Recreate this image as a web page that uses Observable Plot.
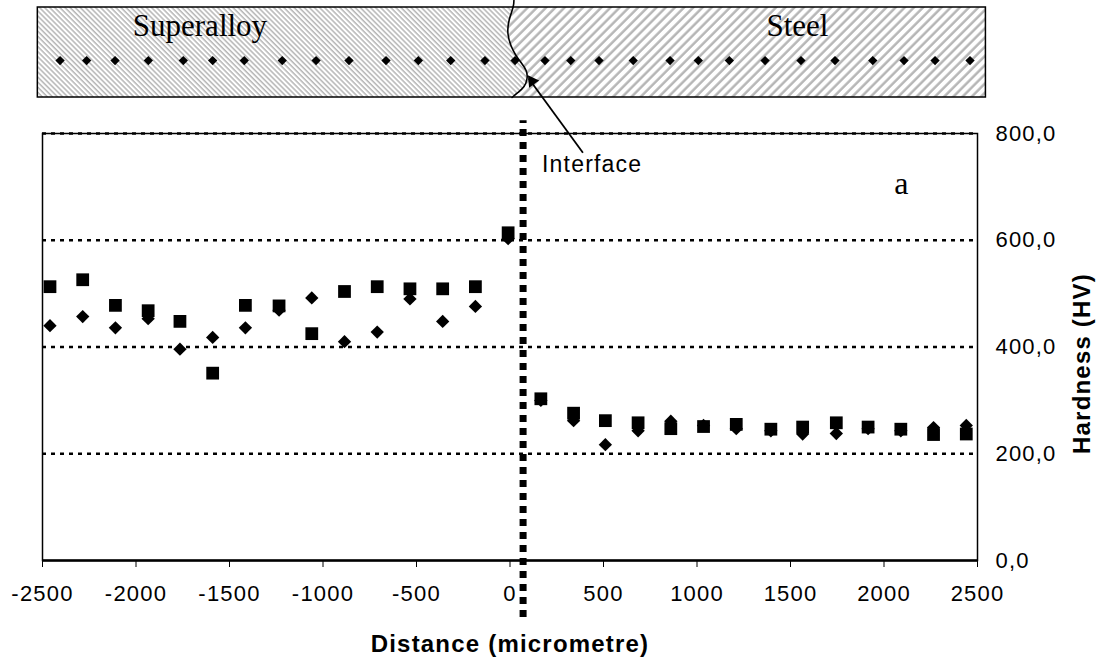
<!DOCTYPE html>
<html><head><meta charset="utf-8">
<script src="https://cdn.jsdelivr.net/npm/d3@7"></script>
<script src="https://cdn.jsdelivr.net/npm/@observablehq/plot@0.6"></script>
<style>
body{margin:0;background:#fff;}
#wrap{position:relative;width:1105px;height:664px;overflow:hidden;}
#wrap svg{position:absolute;left:0;top:0;}
</style></head><body><div id="wrap"></div>
<script>
// ---- hardness data (distance in micrometre, hardness HV) ----
const distance = [-2460, -2285, -2110, -1935, -1765, -1590, -1415, -1235, -1060, -885, -710, -535, -360, -185, -10,
                  165, 340, 510, 685, 860, 1035, 1210, 1395, 1565, 1745, 1915, 2090, 2265, 2440];
const hardnessSquare = [513, 526, 478, 468, 448, 351, 478, 477, 425, 504, 513, 509, 509, 513, 614,
                        303, 276, 262, 258, 247, 251, 255, 246, 250, 258, 250, 246, 236, 237];
const hardnessDiamond = [440, 457, 436, 453, 396, 418, 436, 469, 492, 410, 428, 490, 448, 476, 603,
                         300, 262, 217, 243, 261, 253, 247, 243, 237, 238, 247, 243, 249, 253];
const xTicks = [-2500, -2000, -1500, -1000, -500, 0, 500, 1000, 1500, 2000, 2500];
const yTicks = [0, 200, 400, 600, 800];
const gridValues = [200, 400, 600, 800];
const interfaceSpan = [{x: 70, y1: -107, y2: 824}];
const interfaceNote = [{x: 171, y: 742, text: "Interface"}];
const panelNote = [{x: 2096, y: 706, text: "a"}];
const arrowShaft = [{x1: 390, y1: 764, x2: 100, y2: 903}];
const arrowTip = [{x: 118, y: 898, angle: -35.5}];

// ---- schematic of the sample (x in micrometre, y = fraction of bar height) ----
const barBox = [{x1: -2525, x2: 2545, y1: 0, y2: 1}];
const indentX = [-2406, -2264, -2112, -1934, -1747, -1590, -1421, -1218, -1037, -861, -663, -490, -317, -134, 27,
                 187, 325, 476, 659, 856, 1007, 1173, 1364, 1556, 1738, 1940, 2107, 2273, 2460];
const indentRow = 0.41;
const interfaceCurve = [
  {y: 1.078, x: 21}, {y: 1, x: 16}, {y: 0.856, x: -5}, {y: 0.711, x: -11}, {y: 0.578, x: 5},
  {y: 0.467, x: 32}, {y: 0.389, x: 59}, {y: 0.3, x: 86}, {y: 0.211, x: 91}, {y: 0.122, x: 75},
  {y: 0.056, x: 43}, {y: 0, x: 11}
];
const zoneLabels = [{x: -1658, y: 0.79, name: "Superalloy"}, {x: 1537, y: 0.79, name: "Steel"}];

const points = distance.map((d, i) => ({d, sq: hardnessSquare[i], di: hardnessDiamond[i]}));
const alloyEdge = interfaceCurve.filter(p => p.y <= 1);

const wrap = document.getElementById("wrap");

const schem = Plot.plot({
  width: 1105, height: 110,
  marginLeft: 42, marginRight: 128, marginTop: 7, marginBottom: 13,
  x: {domain: [-2500, 2500], axis: null},
  y: {domain: [0, 1], axis: null},
  style: {background: "transparent", overflow: "visible"},
  marks: [
    Plot.rect(barBox, {x1: "x1", x2: "x2", y1: "y1", y2: "y2", fill: "url(#hatchSteel)"}),
    Plot.areaX(alloyEdge, {y: "y", x1: barBox[0].x1, x2: "x", fill: "url(#hatchAlloy)", curve: "natural"}),
    Plot.line(interfaceCurve, {x: "x", y: "y", curve: "natural", stroke: "black", strokeWidth: 1.6}),
    Plot.rect(barBox, {x1: "x1", x2: "x2", y1: "y1", y2: "y2", fill: "none", stroke: "black", strokeWidth: 1.5}),
    Plot.dot(indentX, {x: d => d, y: () => indentRow, symbol: "diamond2", r: 4.2, fill: "black", stroke: "none"}),
    Plot.text(zoneLabels, {x: "x", y: "y", text: "name", fontFamily: "Liberation Serif, Times New Roman, serif", fontSize: 31, fill: "black"})
  ]
});
const defs = d3.select(schem).insert("defs", ":first-child");
const pS = defs.append("pattern").attr("id", "hatchSteel").attr("patternUnits", "userSpaceOnUse")
  .attr("width", 6.5).attr("height", 6.5).attr("patternTransform", "rotate(45)");
pS.append("rect").attr("width", 6.5).attr("height", 6.5).attr("fill", "white");
pS.append("line").attr("x1", 1.5).attr("x2", 1.5).attr("y1", 0).attr("y2", 6.5).attr("stroke", "#b4b4b4").attr("stroke-width", 2.4);
const pA = defs.append("pattern").attr("id", "hatchAlloy").attr("patternUnits", "userSpaceOnUse")
  .attr("width", 3.6).attr("height", 3.6).attr("patternTransform", "rotate(-45)");
pA.append("rect").attr("width", 3.6).attr("height", 3.6).attr("fill", "white");
pA.append("line").attr("x1", 1).attr("x2", 1).attr("y1", 0).attr("y2", 3.6).attr("stroke", "#9a9a9a").attr("stroke-width", 1.1);
wrap.appendChild(schem);

const main = Plot.plot({
  width: 1105, height: 664,
  marginLeft: 42, marginRight: 128, marginTop: 133, marginBottom: 104,
  style: {background: "transparent", overflow: "visible", fontFamily: "Liberation Sans, Arial, sans-serif", fontSize: "22px", letterSpacing: "1.2px", color: "black"},
  x: {domain: [-2500, 2500], ticks: xTicks, tickFormat: d => String(d), tickSize: 7, tickPadding: 18, label: null},
  y: {domain: [0, 800], ticks: yTicks, tickFormat: d => d.toFixed(1).replace(".", ","), axis: "right", tickSize: 0, tickPadding: 18, label: null},
  marks: [
    Plot.ruleY(gridValues, {stroke: "black", strokeWidth: 2.5, strokeDasharray: "4,5"}),
    Plot.frame({stroke: "black", strokeWidth: 1.5}),
    Plot.ruleY([0], {stroke: "black", strokeWidth: 2.5}),
    Plot.ruleX(interfaceSpan, {x: "x", y1: "y1", y2: "y2", stroke: "black", strokeWidth: 7, strokeDasharray: "7,6"}),
    Plot.dot(points, {x: "d", y: "di", symbol: "diamond2", r: 6, fill: "black", stroke: "none"}),
    Plot.dot(points, {x: "d", y: "sq", symbol: "square", r: 7.2, fill: "black", stroke: "none"}),
    Plot.link(arrowShaft, {x1: "x1", y1: "y1", x2: "x2", y2: "y2", stroke: "black", strokeWidth: 1.8}),
    Plot.dot(arrowTip, {x: "x", y: "y", rotate: "angle", symbol: "triangle", r: 4.6, fill: "black", stroke: "none"}),
    Plot.text(interfaceNote, {x: "x", y: "y", text: "text", textAnchor: "start", fontSize: 23, fill: "black"}),
    Plot.text(panelNote, {x: "x", y: "y", text: "text", fontFamily: "Liberation Serif, Times New Roman, serif", fontSize: 32, fill: "black"}),
    Plot.text(["Hardness (HV)"], {text: d => d, frameAnchor: "right", dx: 105, dy: -74, rotate: -90, fontWeight: "bold", fontSize: 24, fill: "black"}),
    Plot.text(["Distance (micrometre)"], {text: d => d, frameAnchor: "bottom", dy: 91, fontWeight: "bold", fontSize: 24, fill: "black"})
  ]
});
wrap.appendChild(main);
</script></body></html>
